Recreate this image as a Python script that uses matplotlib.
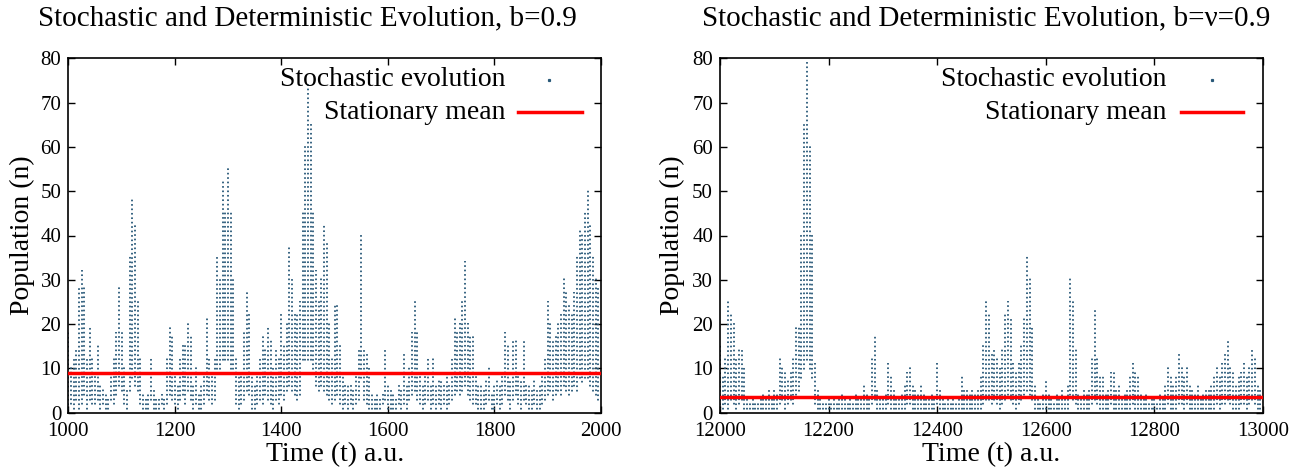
import numpy as np
import matplotlib
matplotlib.use("Agg")
import matplotlib.pyplot as plt

plt.rcParams['font.family'] = ['Liberation Serif', 'DejaVu Serif']
plt.rcParams['lines.scale_dashes'] = False

DOT = '#285878'
RED = '#ff0000'

# ---- data: columns of the stochastic trajectory (time, lowest n, highest n) ----
STEP = 5
t_left = np.arange(1000, 2000, STEP)
hi_left = [
    18, 10, 12, 14, 28, 32, 28, 12, 19, 12,   # 1000
    8, 15, 6, 5, 4, 3, 8, 12, 18, 28,         # 1050
    18, 10, 5, 35, 48, 42, 25, 12, 4, 3,      # 1100
    4, 12, 5, 3, 3, 4, 3, 12, 19, 17,         # 1150
    8, 6, 12, 15, 15, 20, 17, 6, 10, 4,       # 1200
    6, 8, 21, 12, 8, 12, 35, 30, 52, 45,      # 1250
    55, 45, 30, 12, 8, 8, 18, 27, 22, 8,      # 1300
    6, 8, 12, 17, 14, 19, 16, 10, 14, 12,     # 1350
    22, 15, 20, 37, 30, 22, 22, 25, 45, 60,   # 1400
    74, 65, 45, 32, 25, 30, 42, 38, 20, 12,   # 1450
    24, 24, 15, 8, 6, 6, 6, 5, 8, 14,         # 1500
    40, 14, 13, 10, 4, 3, 4, 3, 4, 14,        # 1550
    6, 5, 4, 3, 6, 5, 13, 6, 10, 18,          # 1600
    25, 18, 8, 6, 8, 12, 6, 12, 6, 7,         # 1650
    7, 6, 8, 6, 12, 21, 18, 20, 25, 34,       # 1700
    20, 17, 17, 8, 6, 6, 5, 7, 10, 4,         # 1750
    6, 7, 6, 8, 18, 15, 7, 16, 16, 8,         # 1800
    7, 16, 6, 6, 5, 7, 5, 6, 8, 12,           # 1850
    25, 20, 16, 17, 20, 22, 30, 27, 24, 22,   # 1900
    27, 35, 41, 40, 45, 50, 42, 35, 30, 28,   # 1950
]
lo_left = [
    1, 2, 1, 3, 1, 2, 4, 1, 3, 2,
    2, 3, 1, 2, 1, 1, 3, 2, 4, 6,
    5, 2, 1, 5, 8, 6, 5, 2, 1, 1,
    1, 3, 1, 1, 1, 2, 1, 2, 4, 3,
    2, 1, 3, 4, 2, 5, 3, 1, 2, 1,
    1, 2, 4, 3, 2, 3, 10, 10, 12, 12,
    12, 10, 10, 2, 1, 2, 3, 5, 4, 1,
    1, 2, 3, 2, 4, 3, 2, 1, 3, 2,
    4, 3, 5, 6, 5, 4, 3, 4, 12, 12,
    12, 12, 10, 6, 5, 6, 5, 4, 3, 2,
    3, 4, 2, 1, 2, 1, 2, 1, 2, 3,
    8, 3, 2, 1, 1, 1, 1, 1, 2, 3,
    1, 1, 1, 1, 2, 1, 2, 1, 3, 4,
    5, 3, 2, 1, 2, 3, 1, 2, 1, 2,
    1, 2, 1, 2, 3, 4, 5, 4, 5, 6,
    4, 3, 2, 2, 1, 1, 1, 2, 3, 1,
    1, 2, 1, 2, 4, 3, 1, 3, 4, 2,
    1, 3, 2, 1, 1, 2, 1, 1, 2, 3,
    4, 5, 3, 4, 5, 4, 6, 5, 4, 5,
    6, 5, 8, 7, 8, 8, 6, 5, 4, 3,
]
mean_left = 9.0

t_right = np.arange(12000, 13000, STEP)
hi_right = [
    15, 8, 12, 25, 22, 20, 12, 14, 14, 10,    # 12000
    3, 2, 3, 2, 2, 3, 4, 3, 5, 3,             # 12050
    5, 4, 12, 10, 9, 7, 9, 12, 19, 19,        # 12100
    40, 65, 79, 60, 40, 11, 5, 3, 2, 2,       # 12150
    3, 2, 3, 2, 3, 4, 3, 2, 3, 2,             # 12200
    4, 3, 3, 6, 4, 3, 12, 17, 5, 3,           # 12250
    3, 4, 11, 8, 5, 3, 3, 4, 6, 9,            # 12300
    10, 6, 5, 4, 6, 4, 3, 3, 4, 3,            # 12350
    11, 5, 3, 2, 3, 2, 3, 2, 3, 8,            # 12400
    5, 5, 4, 5, 4, 5, 8, 15, 25, 22,          # 12450
    13, 14, 12, 10, 14, 22, 25, 21, 11, 9,    # 12500
    11, 15, 21, 35, 30, 19, 6, 3, 2, 4,       # 12550
    7, 4, 3, 2, 4, 3, 5, 3, 6, 30,            # 12600
    25, 14, 4, 3, 5, 4, 5, 12, 23, 12,        # 12650
    8, 8, 4, 5, 9, 9, 5, 6, 3, 4,             # 12700
    5, 8, 11, 9, 8, 4, 3, 4, 2, 3,            # 12750
    3, 2, 4, 3, 6, 10, 8, 6, 8, 13,           # 12800
    10, 8, 10, 6, 5, 4, 6, 3, 4, 5,           # 12850
    5, 6, 8, 10, 8, 11, 13, 16, 10, 9,        # 12900
    6, 8, 9, 11, 8, 10, 14, 12, 6, 5,         # 12950
]
lo_right = [
    1, 1, 2, 1, 3, 2, 1, 2, 3, 1,
    1, 1, 1, 1, 1, 1, 1, 1, 1, 1,
    1, 1, 2, 3, 1, 2, 3, 2, 4, 5,
    8, 10, 12, 10, 8, 2, 1, 1, 1, 1,
    1, 1, 1, 1, 1, 1, 1, 1, 1, 1,
    1, 1, 1, 1, 1, 1, 2, 3, 1, 1,
    1, 1, 2, 1, 1, 1, 1, 1, 1, 2,
    2, 1, 1, 1, 1, 1, 1, 1, 1, 1,
    2, 1, 1, 1, 1, 1, 1, 1, 1, 1,
    1, 1, 1, 1, 1, 1, 1, 2, 3, 3,
    2, 3, 2, 1, 2, 3, 4, 3, 2, 1,
    2, 3, 4, 5, 4, 3, 1, 1, 1, 1,
    1, 1, 1, 1, 1, 1, 1, 1, 1, 4,
    3, 2, 1, 1, 1, 1, 1, 2, 3, 2,
    1, 1, 1, 1, 2, 1, 1, 1, 1, 1,
    1, 1, 2, 1, 1, 1, 1, 1, 1, 1,
    1, 1, 1, 1, 1, 2, 1, 1, 1, 2,
    2, 1, 2, 1, 1, 1, 1, 1, 1, 1,
    1, 1, 1, 2, 1, 2, 2, 3, 2, 1,
    1, 1, 2, 2, 1, 2, 3, 2, 1, 1,
]
mean_right = 3.5

W, H = 1305, 475
fig = plt.figure(figsize=(W / 100, H / 100), dpi=100)


def panel(px, t, lo, hi, mean, xlim, title, title_x, ylab_x, leg):
    x0, x1, y0, y1 = px
    ax = fig.add_axes([x0 / W, 1 - y1 / H, (x1 - x0) / W, (y1 - y0) / H])
    ax.set_xlim(*xlim)
    ax.set_ylim(0, 80)

    # one dot per population unit along each column
    period = (y1 - y0) / 80 * 72 / 100
    on = 1.2
    pad = 0.3
    offset = (on / 2 - pad * period) % period
    lo = np.asarray(lo, dtype=float)
    hi = np.asarray(hi, dtype=float)
    ax.vlines(t, lo - pad, hi + pad, colors=DOT, linewidth=1.3,
              linestyles=[(offset, (on, period - on))])
    ax.axhline(mean, color=RED, lw=2.5, zorder=3)

    ax.set_xticks(np.arange(xlim[0], xlim[1] + 1, 200))
    ax.set_yticks(np.arange(0, 81, 10))
    ax.tick_params(direction='in', top=True, right=True, length=5, width=1,
                   labelsize=15, colors='black')
    ax.tick_params(axis='x', pad=7)
    ax.tick_params(axis='y', pad=5)
    for s in ax.spines.values():
        s.set_linewidth(1.2)

    tx, dx, lx0, lx1 = leg
    ax.text(tx, 0.939, "Stochastic evolution", transform=ax.transAxes,
            ha='right', va='center', fontsize=20)
    ax.text(tx, 0.848, "Stationary mean", transform=ax.transAxes,
            ha='right', va='center', fontsize=20)
    ax.plot([dx], [0.939], marker='s', ms=1.3, color=DOT, lw=0,
            transform=ax.transAxes, clip_on=False)
    ax.plot([lx0, lx1], [0.848, 0.848], color=RED, lw=2.5,
            transform=ax.transAxes, clip_on=False)

    fig.text(title_x / W, 1 - 18 / H, title, ha='center', va='center', fontsize=21)
    fig.text(ylab_x / W, 1 - (y0 + y1) / 2 / H, "Population (n)", rotation=90,
             ha='center', va='center', fontsize=20)
    fig.text((x0 + x1) / 2 / W, 1 - 455 / H, "Time (t) a.u.", ha='center',
             va='center', fontsize=20)
    return ax


panel((68.3, 601, 58.3, 412.7), t_left, lo_left, hi_left, mean_left, (1000, 2000),
      "Stochastic and Deterministic Evolution, b=0.9", 307, 22,
      (0.820, 0.903, 0.844, 0.964))
panel((720, 1263, 58.3, 412.7), t_right, lo_right, hi_right, mean_right, (12000, 13000),
      "Stochastic and Deterministic Evolution, b=\u03bd=0.9", 986, 672,
      (0.823, 0.906, 0.849, 0.963))

fig.savefig("out.png", dpi=100)
